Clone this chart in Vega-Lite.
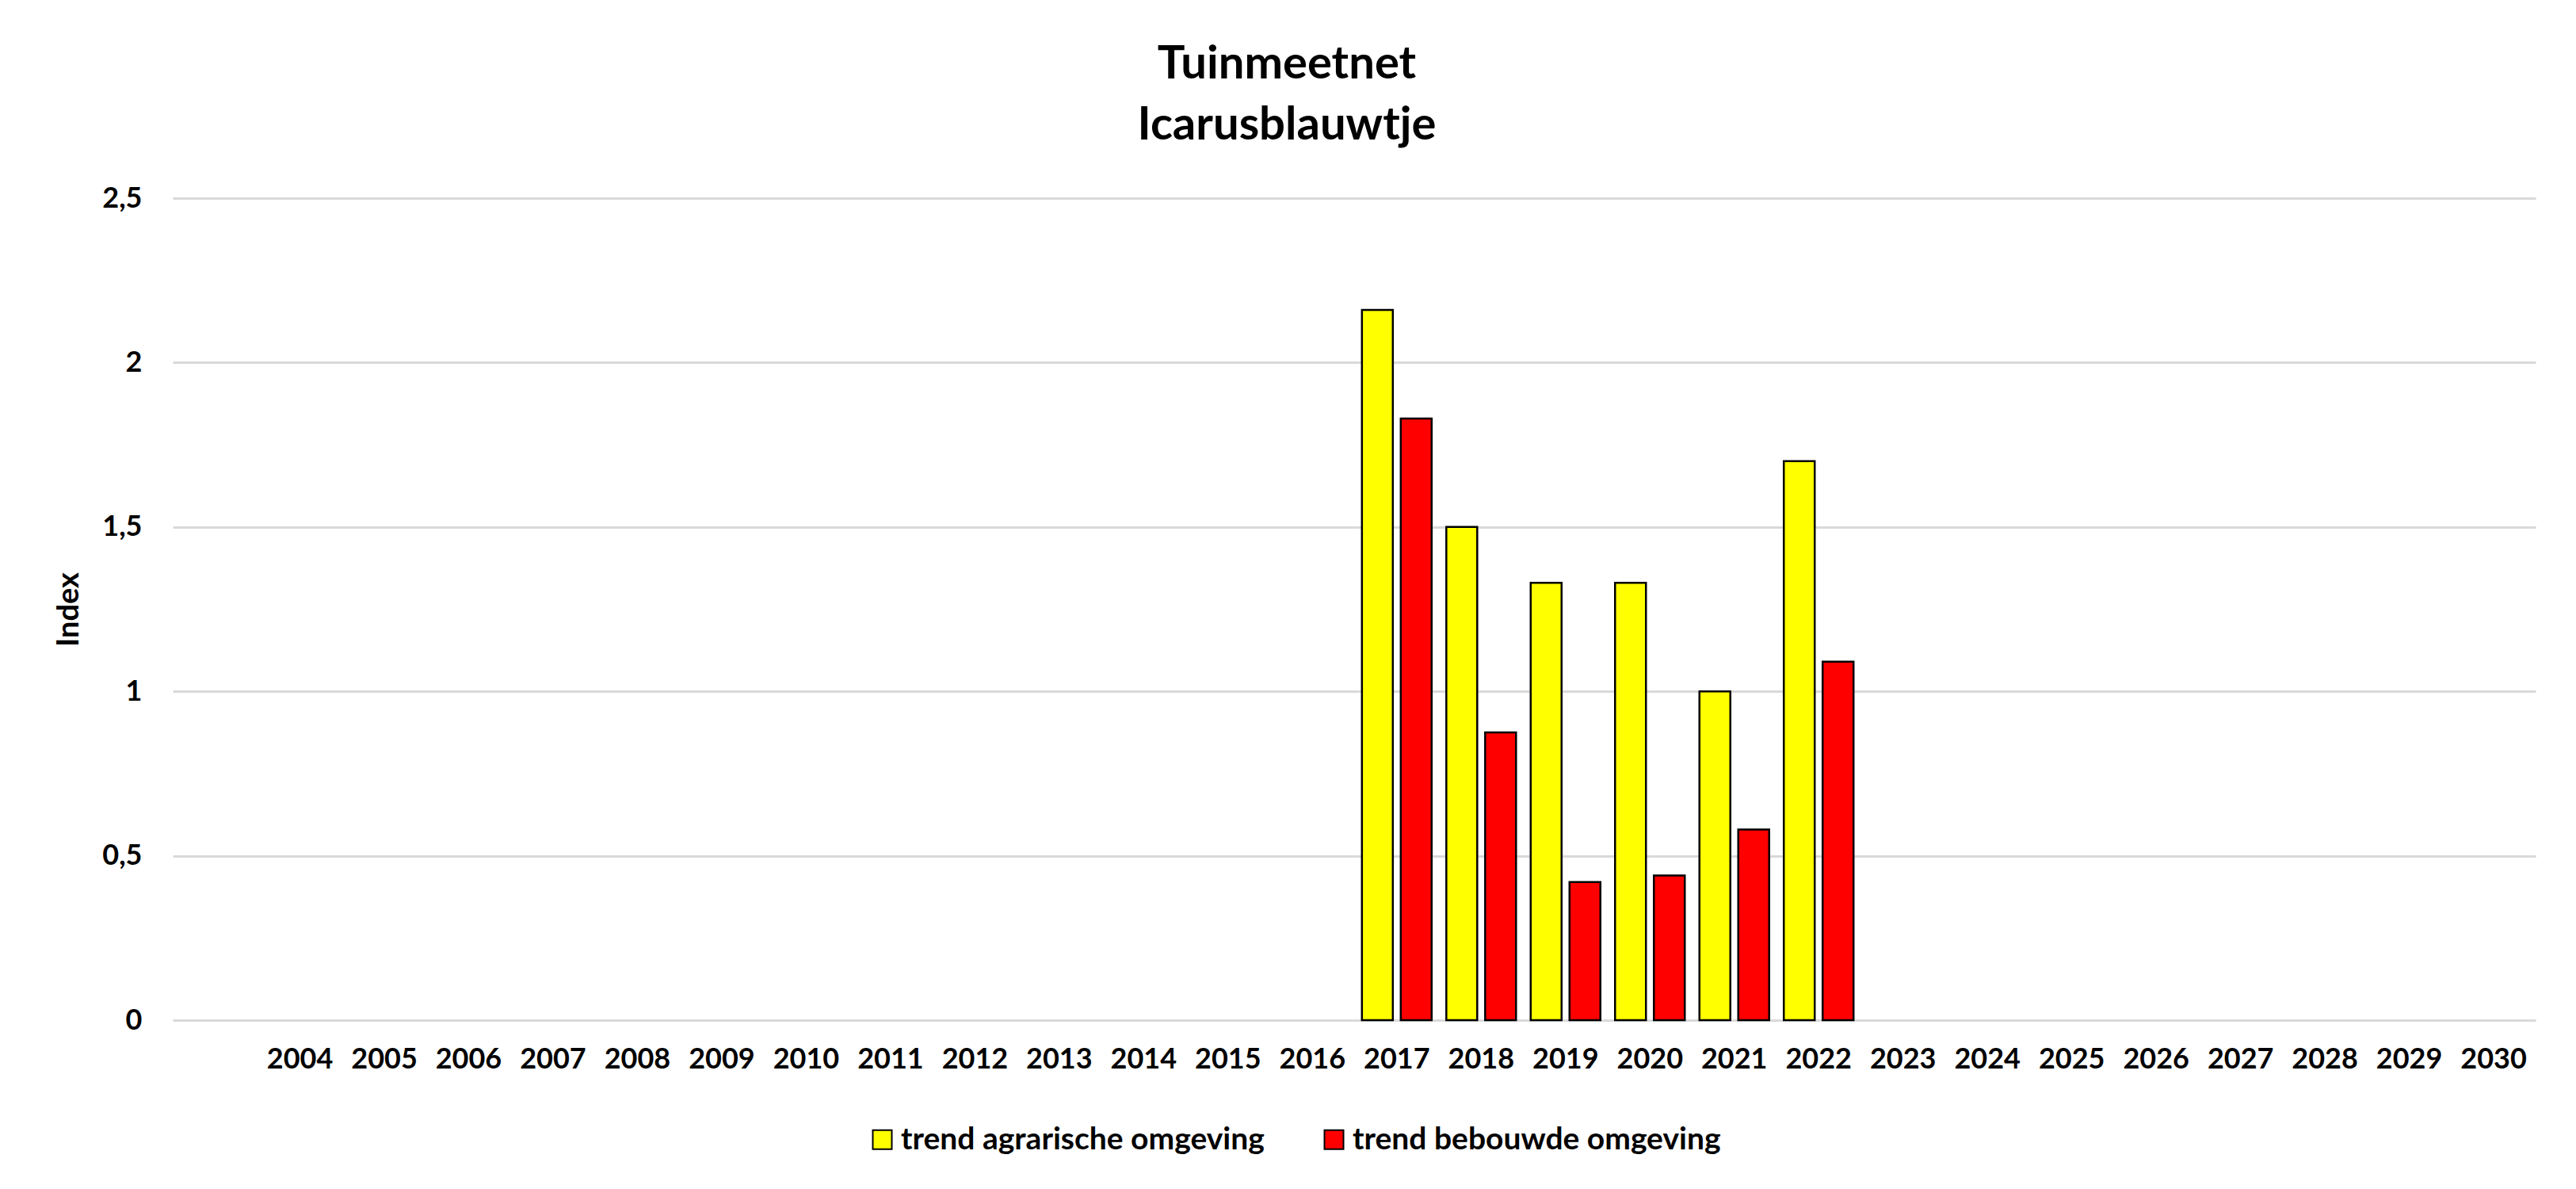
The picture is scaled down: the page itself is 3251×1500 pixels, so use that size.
{
  "$schema": "https://vega.github.io/schema/vega-lite/v6.json",
  "width": 2982,
  "height": 1037,
  "autosize": {"type": "none"},
  "padding": {"left": 218, "top": 250, "right": 51, "bottom": 213},
  "background": "white",
  "title": {
    "text": ["Tuinmeetnet", "Icarusblauwtje"],
    "font": "Lato",
    "fontSize": 58,
    "fontWeight": "bold",
    "color": "black",
    "lineHeight": 77,
    "anchor": "middle",
    "frame": "group",
    "dx": -85,
    "offset": 44
  },
  "config": {"view": {"stroke": null}, "font": "Lato"},
  "data": {
    "values": [
      {"year": "2017", "series": "trend agrarische omgeving", "value": 2.16},
      {"year": "2017", "series": "trend bebouwde omgeving", "value": 1.83},
      {"year": "2018", "series": "trend agrarische omgeving", "value": 1.5},
      {"year": "2018", "series": "trend bebouwde omgeving", "value": 0.875},
      {"year": "2019", "series": "trend agrarische omgeving", "value": 1.33},
      {"year": "2019", "series": "trend bebouwde omgeving", "value": 0.42},
      {"year": "2020", "series": "trend agrarische omgeving", "value": 1.33},
      {"year": "2020", "series": "trend bebouwde omgeving", "value": 0.44},
      {"year": "2021", "series": "trend agrarische omgeving", "value": 1.0},
      {"year": "2021", "series": "trend bebouwde omgeving", "value": 0.58},
      {"year": "2022", "series": "trend agrarische omgeving", "value": 1.7},
      {"year": "2022", "series": "trend bebouwde omgeving", "value": 1.09}
    ]
  },
  "mark": {"type": "bar", "stroke": "black", "strokeWidth": 2.5},
  "encoding": {
    "x": {
      "field": "year",
      "type": "nominal",
      "scale": {
        "domain": ["2004","2005","2006","2007","2008","2009","2010","2011","2012","2013","2014","2015","2016","2017","2018","2019","2020","2021","2022","2023","2024","2025","2026","2027","2028","2029","2030"],
        "paddingInner": 0.1736,
        "paddingOuter": 0.589,
        "align": 0.929
      },
      "axis": {
        "title": null,
        "labelAngle": 0,
        "labelFont": "Lato",
        "labelFontSize": 36,
        "labelFontWeight": "bold",
        "labelColor": "black",
        "ticks": false,
        "domain": false,
        "labelPadding": 32
      }
    },
    "xOffset": {
      "field": "series",
      "type": "nominal",
      "scale": {
        "domain": ["trend agrarische omgeving", "trend bebouwde omgeving"],
        "paddingInner": 0.204,
        "paddingOuter": 0
      }
    },
    "y": {
      "field": "value",
      "type": "quantitative",
      "scale": {"domain": [0, 2.5], "nice": false},
      "axis": {
        "values": [0, 0.5, 1, 1.5, 2, 2.5],
        "labelExpr": "replace(toString(datum.value), '.', ',')",
        "title": "Index",
        "titleFont": "Lato",
        "titleFontSize": 38,
        "titleFontWeight": "bold",
        "titleColor": "black",
        "titlePadding": 22,
        "labelFont": "Lato",
        "labelFontSize": 36,
        "labelFontWeight": "bold",
        "labelColor": "black",
        "labelPadding": 39,
        "ticks": false,
        "domain": false,
        "grid": true,
        "gridColor": "#d9d9d9",
        "gridWidth": 3
      }
    },
    "color": {
      "field": "series",
      "type": "nominal",
      "scale": {
        "domain": ["trend agrarische omgeving", "trend bebouwde omgeving"],
        "range": ["#ffff00", "#ff0000"]
      },
      "legend": {
        "title": null,
        "orient": "none",
        "direction": "horizontal",
        "legendX": 876,
        "legendY": 1168,
        "symbolType": "square",
        "symbolSize": 576,
        "symbolStrokeColor": "black",
        "symbolStrokeWidth": 2,
        "labelFont": "Lato",
        "labelFontSize": 39,
        "labelFontWeight": "bold",
        "labelColor": "black",
        "labelOffset": 4,
        "columnPadding": 68,
        "labelLimit": 1000,
        "padding": 0
      }
    }
  }
}
